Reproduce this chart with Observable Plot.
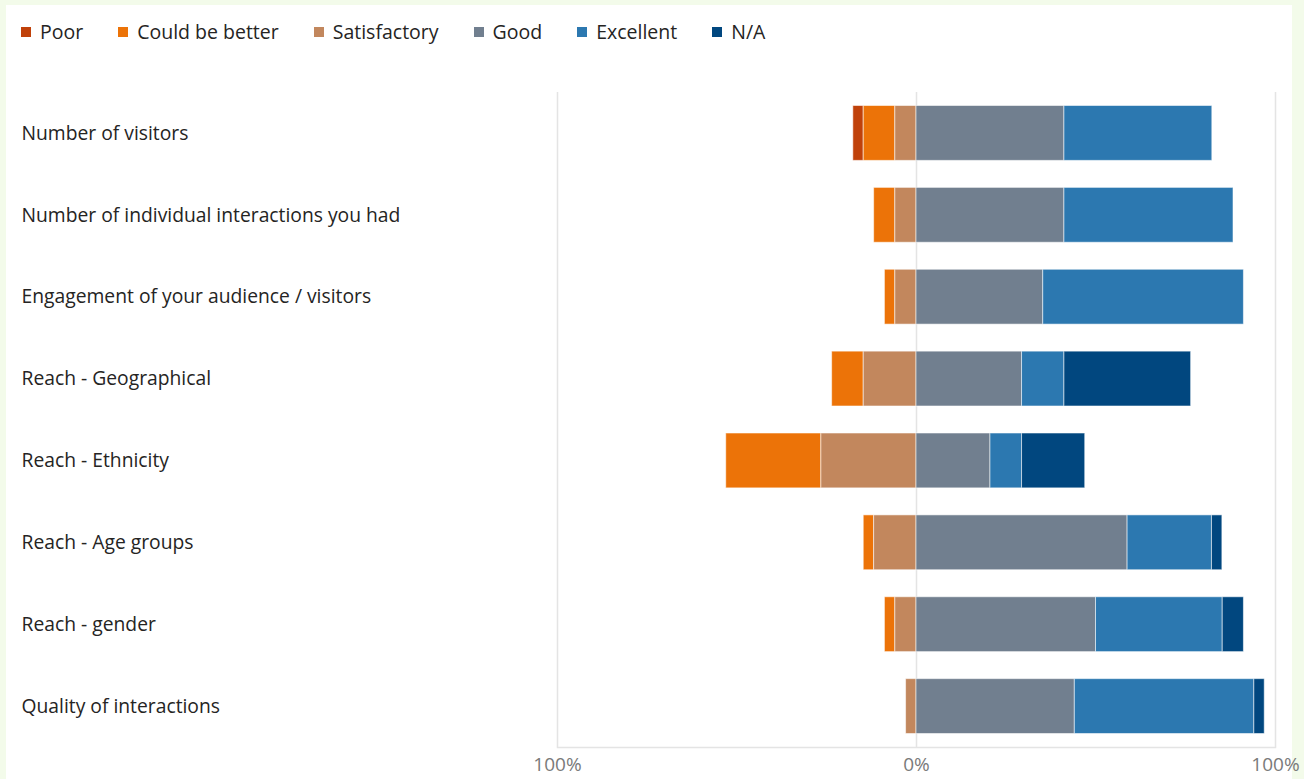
<!DOCTYPE html>
<html>
<head>
<meta charset="utf-8">
<script src="https://cdn.jsdelivr.net/npm/d3@7"></script>
<script src="https://cdn.jsdelivr.net/npm/@observablehq/plot@0.6"></script>
<style>
  html, body { margin: 0; padding: 0; background: #f3fbea; width: 1304px; height: 779px; overflow: hidden; }
  #card { position: absolute; left: 6px; top: 5px; width: 1286px; height: 774px; background: #fff; overflow: visible;
          font-family: "Open Sans", "Noto Sans", sans-serif; }
  #legend { position: absolute; left: 15px; top: 13px; display: flex; align-items: center; font-size: 19.5px; color: #252423; white-space: nowrap; }
  .item { display: flex; align-items: center; margin-right: 35px; }
  .sw { width: 10px; height: 10px; margin-right: 9px; }
  #chart { position: absolute; left: 0; top: 60px; }
</style>
</head>
<body>
<div id="card">
  <div id="legend"></div>
  <div id="chart"></div>
</div>
<script>
const categories = [
  "Number of visitors",
  "Number of individual interactions you had",
  "Engagement of your audience / visitors",
  "Reach - Geographical",
  "Reach - Ethnicity",
  "Reach - Age groups",
  "Reach - gender",
  "Quality of interactions"
];
const ratings = ["Poor", "Could be better", "Satisfactory", "Good", "Excellent", "N/A"];
const colors = ["#c0410a", "#ec7308", "#c2875d", "#717f8f", "#2c78b0", "#01477f"];
const negativeRatings = ["Poor", "Could be better", "Satisfactory"];
const stackOrder = ["Satisfactory", "Could be better", "Poor", "Good", "Excellent", "N/A"];

// percent of respondents per category
const poor          = [2.9, 0,    0,    0,    0,    0,    0,    0];
const couldBeBetter = [8.8, 5.9,  2.9,  8.8,  26.5, 2.9,  2.9,  0];
const satisfactory  = [5.9, 5.9,  5.9,  14.7, 26.5, 11.8, 5.9,  2.9];
const good          = [41.2, 41.2, 35.3, 29.4, 20.6, 58.8, 50.0, 44.1];
const excellent     = [41.2, 47.1, 55.9, 11.8, 8.8,  23.5, 35.3, 50.0];
const na            = [0,    0,    0,    35.3, 17.6, 2.9,  5.9,  2.9];

const xTicks = [-100, 0, 100];

const series = [poor, couldBeBetter, satisfactory, good, excellent, na];
const table = [];
categories.forEach((c, i) => {
  ratings.forEach((r, j) => {
    const v = series[j][i];
    if (v > 0) table.push({category: c, rating: r, value: negativeRatings.includes(r) ? -v : v});
  });
});

// legend
const legend = document.getElementById("legend");
ratings.forEach((r, j) => {
  const it = document.createElement("div");
  it.className = "item";
  const sw = document.createElement("div");
  sw.className = "sw";
  sw.style.background = colors[j];
  const t = document.createElement("span");
  t.textContent = r;
  it.appendChild(sw); it.appendChild(t);
  legend.appendChild(it);
});

const chart = Plot.plot({
  width: 1286,
  height: 714,
  marginLeft: 551,
  marginRight: 17,
  marginTop: 27,
  marginBottom: 32,
  style: {fontFamily: '"Open Sans", "Noto Sans", sans-serif', background: "transparent", overflow: "visible"},
  x: {domain: [-100, 100]},
  y: {domain: categories, paddingInner: 0.33, paddingOuter: 0.165, round: false},
  color: {domain: ratings, range: colors},
  marks: [
    Plot.ruleX(xTicks, {stroke: "#e4e4e4", strokeWidth: 1.5}),
    Plot.frame({anchor: "bottom", stroke: "#e4e4e4", strokeWidth: 1.5}),
    Plot.barX(table, Plot.stackX({
      x: "value", y: "category", fill: "rating", order: stackOrder,
      stroke: "#ffffff", strokeOpacity: 0.55, strokeWidth: 1, inset: 0
    })),
    Plot.axisX({ticks: xTicks, tickFormat: d => Math.abs(d) + "%", tickSize: 0, tickPadding: 10,
                fontSize: 19, color: "#7a7a7a", label: null}),
    Plot.axisY({tickSize: 0, tickPadding: 0, textAnchor: "start", dx: -536, dy: 0,
                fontSize: 19.3, color: "#252423", label: null})
  ]
});
document.getElementById("chart").appendChild(chart);
</script>
</body>
</html>
